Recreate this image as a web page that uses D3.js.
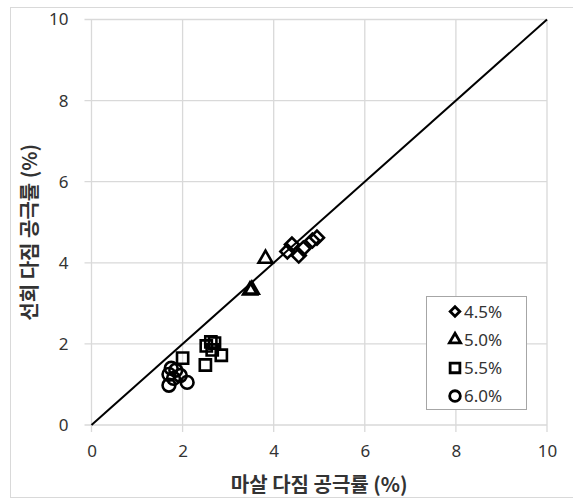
<!DOCTYPE html>
<html>
<head>
<meta charset="utf-8">
<script src="https://cdn.jsdelivr.net/npm/d3@7"></script>
<style>
  html, body { margin: 0; padding: 0; background: #fff; }
  svg { display: block; }
</style>
</head>
<body>
<svg id="chart" width="573" height="501"></svg>
<script>
// Air void content by Marshall compaction (x) vs gyratory compaction (y), by binder content
const xTicks = [0, 2, 4, 6, 8, 10];
const yTicks = [0, 2, 4, 6, 8, 10];
const seriesNames = ["4.5%", "5.0%", "5.5%", "6.0%"];

const marshall45 = [4.30, 4.40, 4.55, 4.65, 4.85, 4.95];
const gyratory45 = [4.28, 4.45, 4.18, 4.35, 4.55, 4.62];

const marshall50 = [3.82, 3.48, 3.52];
const gyratory50 = [4.10, 3.32, 3.34];

const marshall55 = [2.00, 2.50, 2.52, 2.62, 2.70, 2.65, 2.85];
const gyratory55 = [1.65, 1.48, 1.95, 2.05, 2.02, 1.85, 1.72];

const marshall60 = [1.70, 1.85, 1.80, 1.70, 2.10, 1.95, 1.75];
const gyratory60 = [1.25, 1.35, 1.15, 0.98, 1.05, 1.22, 1.40];

const xLabel = "마살 다짐 공극률 (%)";
const yLabel = "선회 다짐 공극률 (%)";

const series = [
  { name: seriesNames[0], xs: marshall45, ys: gyratory45, shape: "diamond" },
  { name: seriesNames[1], xs: marshall50, ys: gyratory50, shape: "triangle" },
  { name: seriesNames[2], xs: marshall55, ys: gyratory55, shape: "square" },
  { name: seriesNames[3], xs: marshall60, ys: gyratory60, shape: "circle" }
];

const svg = d3.select("#chart");
const gridColor = "#d9d9d9";
const textColor = "#333333";
const numFont = "'Noto Sans', 'Open Sans', sans-serif";
const korFont = "'Noto Sans CJK KR', 'Noto Sans', sans-serif";

// chart-area frame
svg.append("rect")
  .attr("x", 10.5).attr("y", 7.5)
  .attr("width", 570).attr("height", 490)
  .attr("fill", "none").attr("stroke", gridColor).attr("stroke-width", 1);

const x = d3.scaleLinear().domain([0, 10]).range([91.5, 547]);
const y = d3.scaleLinear().domain([0, 10]).range([425, 19.5]);

// gridlines
const grid = svg.append("g");
grid.selectAll("line.v").data(xTicks).join("line")
  .attr("x1", d => x(d)).attr("x2", d => x(d))
  .attr("y1", y(10)).attr("y2", y(0) + 7)
  .attr("stroke", gridColor).attr("stroke-width", 1.3);
grid.selectAll("line.h").data(yTicks).join("line")
  .attr("x1", x(0) - 7).attr("x2", x(10))
  .attr("y1", d => y(d)).attr("y2", d => y(d))
  .attr("stroke", gridColor).attr("stroke-width", 1.3);

// axis tick labels
const xAxis = d3.axisBottom(x).tickValues(xTicks).tickSize(0).tickPadding(20);
const gx = svg.append("g").attr("transform", `translate(0,${y(0)})`).call(xAxis);
const yAxis = d3.axisLeft(y).tickValues(yTicks).tickSize(0).tickPadding(23);
const gy = svg.append("g").attr("transform", `translate(${x(0)},0)`).call(yAxis);
[gx, gy].forEach(g => {
  g.select(".domain").remove();
  g.selectAll("text")
    .attr("font-family", numFont).attr("font-size", 17)
    .attr("fill", textColor);
});

// 1:1 line
svg.append("line")
  .attr("x1", x(0)).attr("y1", y(0))
  .attr("x2", x(10)).attr("y2", y(10))
  .attr("stroke", "#000").attr("stroke-width", 2);

// marker shapes
const shapeSym = {
  diamond: d3.symbol().type(d3.symbolSquare),
  triangle: d3.symbol().type(d3.symbolTriangle),
  square: d3.symbol().type(d3.symbolSquare),
  circle: d3.symbol().type(d3.symbolCircle)
};
const shapeSize = { diamond: 98, triangle: 84, square: 125, circle: 128 };
const legendSize = { diamond: 46, triangle: 54, square: 95, circle: 90 };
const shapeRot = { diamond: 45, triangle: 0, square: 0, circle: 0 };

function drawMarker(g, shape, cx, cy, size, sw) {
  g.append("path")
    .attr("d", shapeSym[shape].size(size)())
    .attr("transform", `translate(${cx},${cy}) rotate(${shapeRot[shape]})`)
    .attr("fill", "none").attr("stroke", "#000").attr("stroke-width", sw);
}

const pts = svg.append("g");
series.forEach(s => {
  s.xs.forEach((xv, i) => {
    drawMarker(pts, s.shape, x(xv), y(s.ys[i]), shapeSize[s.shape], 2.6);
  });
});

// legend
const lg = svg.append("g");
lg.append("rect")
  .attr("x", 426.5).attr("y", 296.5)
  .attr("width", 100).attr("height", 113)
  .attr("fill", "#fff").attr("stroke", "#a6a6a6").attr("stroke-width", 1);
series.forEach((s, i) => {
  const cy = 311.5 + i * 28.2;
  drawMarker(lg, s.shape, 455, cy, legendSize[s.shape], 2.8);
  lg.append("text")
    .attr("x", 464).attr("y", cy).attr("dy", "0.36em")
    .attr("font-family", numFont).attr("font-size", 17)
    .attr("fill", textColor).text(s.name);
});

// axis titles
svg.append("text")
  .attr("x", (x(0) + x(10)) / 2).attr("y", 485).attr("dy", "0.35em")
  .attr("text-anchor", "middle")
  .attr("font-family", korFont).attr("font-weight", "bold").attr("font-size", 20)
  .attr("fill", textColor).text(xLabel);

svg.append("text")
  .attr("transform", `translate(30,${(y(0) + y(10)) / 2 + 10}) rotate(-90)`)
  .attr("dy", "0.35em")
  .attr("text-anchor", "middle")
  .attr("font-family", korFont).attr("font-weight", "bold").attr("font-size", 20)
  .attr("fill", textColor).text(yLabel);
</script>
</body>
</html>
